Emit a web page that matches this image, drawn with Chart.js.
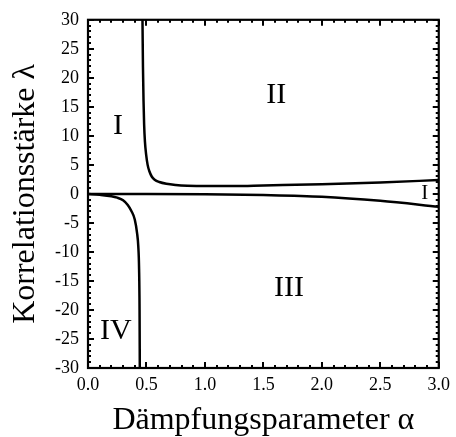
<!DOCTYPE html>
<html>
<head>
<meta charset="utf-8">
<script src="https://cdn.jsdelivr.net/npm/chart.js@4/dist/chart.umd.min.js"></script>
<style>
  html, body { margin: 0; padding: 0; background: #fff; }
  #wrap { width: 456px; height: 437px; }
</style>
</head>
<body>
<div id="wrap"><canvas id="grafico"></canvas></div>
<script>
// Kurve oben (Grenze I / II)
let alphaOben  = [0.466, 0.47, 0.475, 0.48, 0.487, 0.497, 0.51, 0.525, 0.545, 0.57, 0.61, 0.67, 0.75, 0.85, 1.0, 1.25, 1.5, 2.0, 2.5, 3.0]
let lambdaOben = [30, 22, 16, 12, 9, 6.8, 5.0, 3.9, 3.0, 2.45, 2.05, 1.75, 1.55, 1.42, 1.35, 1.35, 1.45, 1.65, 1.95, 2.4]

// Kurve nahe Null (Grenze II / III)
let alphaMitte  = [0, 0.5, 1.0, 1.5, 2.0, 2.5, 3.0]
let lambdaMitte = [0, 0, -0.05, -0.2, -0.5, -1.2, -2.2]

// Kurve unten (Grenze III / IV)
let alphaUnten  = [0, 0.1, 0.2, 0.25, 0.3, 0.34, 0.37, 0.4, 0.42, 0.43, 0.437, 0.441, 0.443]
let lambdaUnten = [0, -0.15, -0.4, -0.65, -1.1, -1.9, -2.9, -4.4, -6.8, -9, -13, -20, -30]

// Achsen
let xTicks = [0, 0.5, 1.0, 1.5, 2.0, 2.5, 3.0]
let yTicks = [-30, -25, -20, -15, -10, -5, 0, 5, 10, 15, 20, 25, 30]

// Bereichsbeschriftungen
let bereiche = [
  { text: "I",   a: 0.256, l: 11.7,  size: 30 },
  { text: "II",  a: 1.61,  l: 17.0,  size: 30 },
  { text: "III", a: 1.72,  l: -16.2, size: 30 },
  { text: "IV",  a: 0.239, l: -23.7, size: 30 },
  { text: "I",   a: 2.88,  l: 0.0,   size: 21 }
]

let punkte = (xs, ys) => xs.map((v, i) => ({ x: v, y: ys[i] }))

let serif = "'Liberation Serif', 'Times New Roman', serif"

// Rahmen, innen liegende Ticks und Beschriftungen
let rahmenPlugin = {
  id: "rahmen",
  afterDatasetsDraw(chart) {
    let ctx = chart.ctx
    let a = chart.chartArea
    let sx = chart.scales.x
    let sy = chart.scales.y
    ctx.save()
    ctx.strokeStyle = "#000"
    ctx.lineWidth = 2
    ctx.beginPath()
    for (let i = 0; i <= 30; i++) {
      let px = Math.round(sx.getPixelForValue(i / 10))
      let len = i % 5 == 0 ? 6 : 3
      ctx.moveTo(px, a.bottom); ctx.lineTo(px, a.bottom - len)
      ctx.moveTo(px, a.top); ctx.lineTo(px, a.top + len)
    }
    for (let j = -30; j <= 30; j++) {
      let py = Math.round(sy.getPixelForValue(j))
      let len = j % 5 == 0 ? 6 : 3
      ctx.moveTo(a.left, py); ctx.lineTo(a.left + len, py)
      ctx.moveTo(a.right, py); ctx.lineTo(a.right - len, py)
    }
    ctx.stroke()
    ctx.lineWidth = 2.2
    ctx.strokeRect(a.left, a.top, a.right - a.left, a.bottom - a.top)

    ctx.fillStyle = "#000"
    ctx.textAlign = "center"
    ctx.textBaseline = "middle"
    bereiche.forEach(b => {
      ctx.font = b.size + "px " + serif
      ctx.fillText(b.text, sx.getPixelForValue(b.a), sy.getPixelForValue(b.l))
    })
    ctx.restore()
  }
}

let linie = (daten) => ({
  data: daten,
  showLine: true,
  borderColor: "#000",
  borderWidth: 2.5,
  pointRadius: 0,
  cubicInterpolationMode: "monotone",
  fill: false
})

new Chart(document.getElementById("grafico"), {
  type: "scatter",
  data: {
    datasets: [
      linie(punkte(alphaOben, lambdaOben)),
      linie(punkte(alphaMitte, lambdaMitte)),
      linie(punkte(alphaUnten, lambdaUnten))
    ]
  },
  options: {
    responsive: true,
    maintainAspectRatio: false,
    animation: false,
    layout: { padding: { top: 16, right: 16, left: 0, bottom: 0 } },
    plugins: { legend: { display: false }, tooltip: { enabled: false } },
    scales: {
      x: {
        type: "linear",
        min: 0,
        max: 3,
        afterFit: s => { s.height = 69 },
        afterBuildTicks: s => { s.ticks = xTicks.map(v => ({ value: v })) },
        grid: { display: false, drawTicks: false },
        border: { display: false },
        ticks: {
          padding: 6,
          color: "#000",
          font: { family: serif, size: 18 },
          callback: v => v.toFixed(1)
        },
        title: {
          display: true,
          text: "Dämpfungsparameter α",
          color: "#000",
          font: { family: serif, size: 32, lineHeight: 1 },
          padding: 0
        }
      },
      y: {
        type: "linear",
        min: -30,
        max: 30,
        afterFit: s => { s.width = 88 },
        afterBuildTicks: s => { s.ticks = yTicks.map(v => ({ value: v })) },
        grid: { display: false, drawTicks: false },
        border: { display: false },
        ticks: {
          padding: 9,
          color: "#000",
          font: { family: serif, size: 18 },
          callback: v => String(v)
        },
        title: {
          display: true,
          text: "Korrelationsstärke λ",
          color: "#000",
          font: { family: serif, size: 32, lineHeight: 1 },
          padding: { top: 10, bottom: 0 }
        }
      }
    }
  },
  plugins: [rahmenPlugin]
})
</script>
</body>
</html>
